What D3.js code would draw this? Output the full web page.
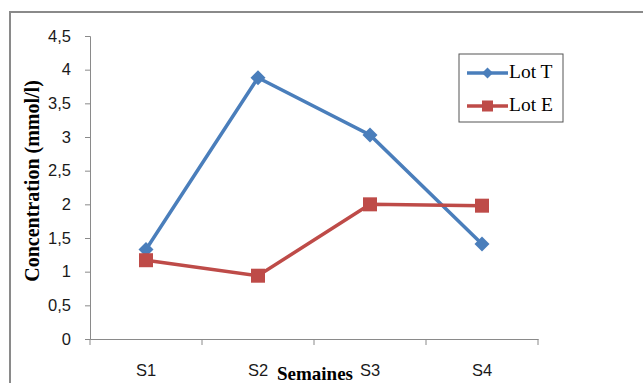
<!DOCTYPE html>
<html><head><meta charset="utf-8">
<script src="https://cdn.jsdelivr.net/npm/d3@7"></script>
<style>body{margin:0;background:#fff}svg{display:block}</style>
</head><body>
<script>
const categories = ["S1","S2","S3","S4"];
const lotT = [1.33, 3.88, 3.03, 1.41];
const lotE = [1.17, 0.94, 2.00, 1.98];
const yTicks = [0,0.5,1,1.5,2,2.5,3,3.5,4,4.5];
const yTickLabels = ["0","0,5","1","1,5","2","2,5","3","3,5","4","4,5"];
const seriesNames = ["Lot T","Lot E"];

const W=643,H=383;
const svg=d3.select("body").append("svg").attr("width",W).attr("height",H);
svg.append("rect").attr("x",10).attr("y",12).attr("width",W).attr("height",H).attr("fill","#fff").attr("stroke","#8a8a8a").attr("stroke-width",2);

const x=d3.scaleBand().domain(categories).range([90,538]);
const y=d3.scaleLinear().domain([0,4.5]).range([339,36]);
const axisColor="#8a8a8a";
const tickFont="Liberation Sans, Arial, sans-serif";

const ya=svg.append("g").attr("transform","translate(90,0)")
 .call(d3.axisLeft(y).tickValues(yTicks).tickFormat((d,i)=>yTickLabels[i]).tickSize(5).tickPadding(14));
ya.attr("font-size",null).attr("font-family",null);
ya.selectAll("line,path").attr("stroke",axisColor);
ya.selectAll("text").style("font-family",tickFont).style("font-size","16.5px").attr("fill","#1a1a1a");

const xa=svg.append("g").attr("transform","translate(0,339)")
 .call(d3.axisBottom(x).tickSize(0).tickPadding(25));
xa.attr("font-size",null).attr("font-family",null);
xa.select("path").attr("stroke",axisColor);
xa.selectAll("text").style("font-family",tickFont).style("font-size","16.5px").attr("fill","#1a1a1a");
const bounds=categories.map(c=>x(c)).concat([x(categories[3])+x.bandwidth()]);
svg.append("g").selectAll("line").data(bounds).join("line")
 .attr("x1",d=>d).attr("x2",d=>d).attr("y1",339).attr("y2",345).attr("stroke",axisColor);

const cx=c=>x(c)+x.bandwidth()/2;
const line=d3.line().x((d,i)=>cx(categories[i])).y(d=>y(d));
const blue="#4a7ebb", red="#be4b48";

svg.append("path").datum(lotT).attr("d",line).attr("fill","none").attr("stroke",blue).attr("stroke-width",3.5);
svg.append("path").datum(lotE).attr("d",line).attr("fill","none").attr("stroke",red).attr("stroke-width",3.5);

svg.append("g").selectAll("path").data(lotT).join("path")
 .attr("d","M0,-7.5L7.5,0L0,7.5L-7.5,0Z")
 .attr("transform",(d,i)=>`translate(${cx(categories[i])},${y(d)})`).attr("fill",blue);
svg.append("g").selectAll("rect").data(lotE).join("rect")
 .attr("x",(d,i)=>cx(categories[i])-7).attr("y",d=>y(d)-7).attr("width",14).attr("height",14).attr("fill",red);

svg.append("text").attr("transform","translate(34,181) rotate(-90)").attr("text-anchor","middle")
 .attr("dominant-baseline","middle")
 .attr("font-family","Liberation Serif, Times New Roman, serif").attr("font-weight","bold").attr("font-size",20)
 .text("Concentration (mmol/l)");
svg.append("text").attr("x",315).attr("y",380).attr("text-anchor","middle")
 .attr("font-family","Liberation Serif, Times New Roman, serif").attr("font-weight","bold").attr("font-size",19)
 .text("Semaines");

const lg=svg.append("g");
lg.append("rect").attr("x",459).attr("y",54).attr("width",104).attr("height",68).attr("fill","#fff").attr("stroke","#555").attr("stroke-width",1);
const ly=[73,106], cols=[blue,red];
seriesNames.forEach((n,i)=>{
  lg.append("line").attr("x1",467).attr("x2",508).attr("y1",ly[i]).attr("y2",ly[i]).attr("stroke",cols[i]).attr("stroke-width",3.5);
  if(i===0) lg.append("path").attr("d","M0,-5.5L5.5,0L0,5.5L-5.5,0Z").attr("transform",`translate(487.5,${ly[i]})`).attr("fill",blue);
  else lg.append("rect").attr("x",482).attr("y",ly[i]-5.5).attr("width",11).attr("height",11).attr("fill",red);
  lg.append("text").attr("x",509).attr("y",ly[i]+1).attr("dominant-baseline","middle")
   .attr("font-family","Liberation Serif, Times New Roman, serif").attr("font-size",19.5).text(n);
});
</script>
</body></html>
